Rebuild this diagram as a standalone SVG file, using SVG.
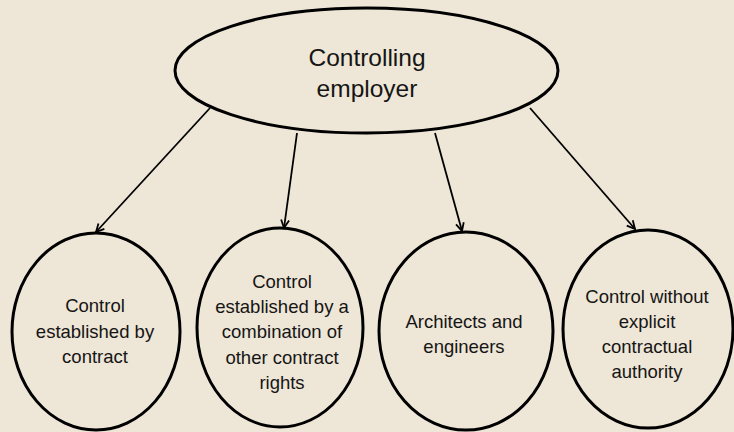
<svg xmlns="http://www.w3.org/2000/svg" width="734" height="432" viewBox="0 0 734 432">
<defs>
<marker id="arr" viewBox="0 0 10 10" refX="9" refY="5" markerWidth="10" markerHeight="10" markerUnits="userSpaceOnUse" orient="auto">
<path d="M1,1 L9,5 L1,9" fill="none" stroke="#000" stroke-width="1.8"/>
</marker>
<style>
.node{fill:none;stroke:#000;stroke-width:3}
.edge{stroke:#000;stroke-width:1.8;fill:none;marker-end:url(#arr)}
.t{font-family:"Liberation Sans",Arial,sans-serif;fill:#151515;text-anchor:middle}
.big{font-size:24.5px}
.sm{font-size:18.5px}
</style>
</defs>
<rect width="734" height="432" fill="#EEE6D6"/>
<g id="connectors">
<line class="edge" x1="210" y1="108" x2="96" y2="232"/>
<line class="edge" x1="297" y1="133" x2="284" y2="228"/>
<line class="edge" x1="435" y1="133" x2="462" y2="231"/>
<line class="edge" x1="530" y1="108" x2="635" y2="229"/>
</g>
<g id="controlling-employer">
<ellipse class="node" cx="366.5" cy="70.5" rx="191.5" ry="62.5"/>
<text class="t big" x="367" y="66">Controlling</text>
<text class="t big" x="367" y="97">employer</text>
</g>
<g id="by-contract">
<ellipse class="node" cx="96" cy="331.5" rx="84" ry="98.5"/>
<text class="t sm" x="95" y="312">Control</text>
<text class="t sm" x="95" y="338">established by</text>
<text class="t sm" x="95" y="363">contract</text>
</g>
<g id="combination">
<ellipse class="node" cx="280" cy="327.5" rx="83" ry="99.5"/>
<text class="t sm" x="282" y="288">Control</text>
<text class="t sm" x="282" y="313">established by a</text>
<text class="t sm" x="282" y="338">combination of</text>
<text class="t sm" x="282" y="364">other contract</text>
<text class="t sm" x="282" y="389">rights</text>
</g>
<g id="architects">
<ellipse class="node" cx="466" cy="331" rx="87" ry="99"/>
<text class="t sm" x="464" y="328">Architects and</text>
<text class="t sm" x="464" y="353">engineers</text>
</g>
<g id="without-authority">
<ellipse class="node" cx="648" cy="329" rx="85" ry="99"/>
<text class="t sm" x="647" y="303">Control without</text>
<text class="t sm" x="647" y="328">explicit</text>
<text class="t sm" x="647" y="353">contractual</text>
<text class="t sm" x="647" y="378">authority</text>
</g>
</svg>
